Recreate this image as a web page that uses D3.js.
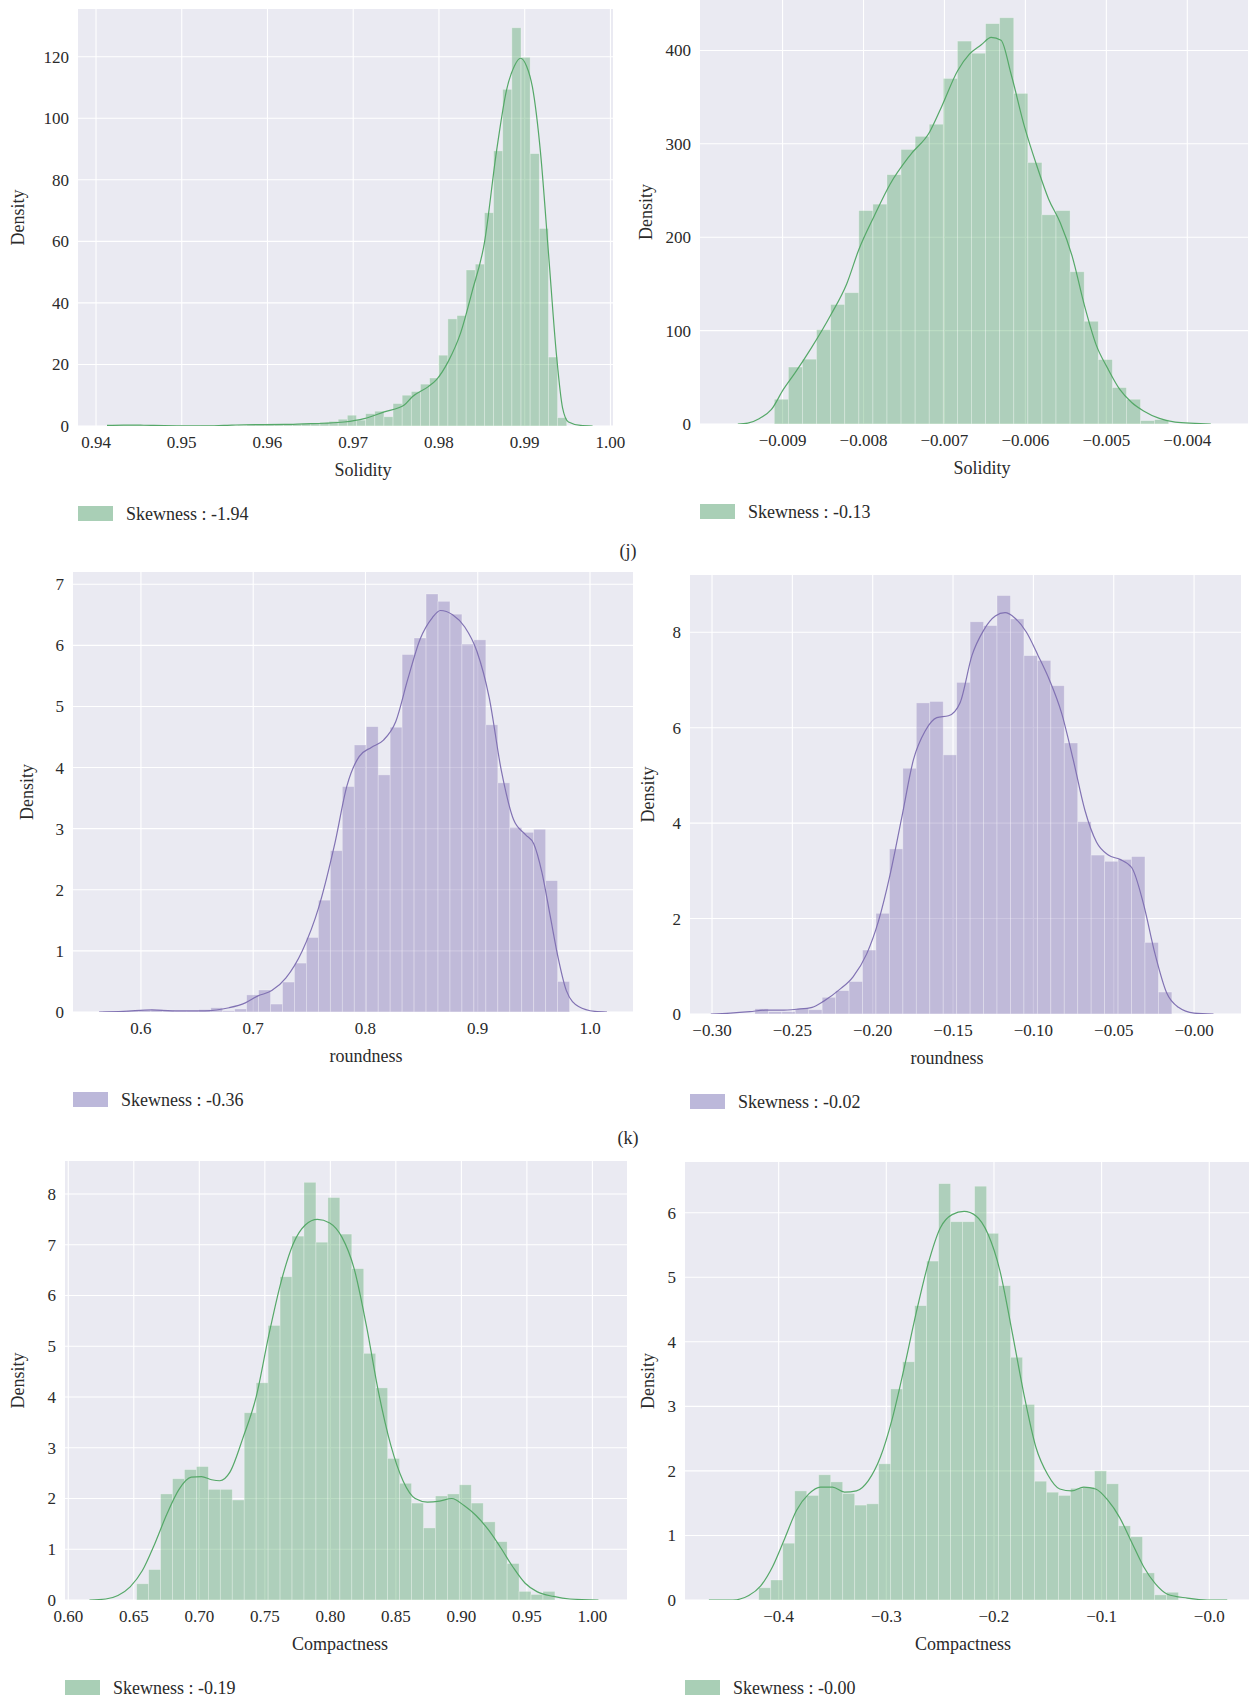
<!DOCTYPE html>
<html>
<head>
<meta charset="utf-8">
<script src="https://cdn.jsdelivr.net/npm/d3@7"></script>
<style>
  html, body { margin: 0; padding: 0; background: #ffffff; }
  svg { display: block; }
  text { font-family: "Liberation Serif", "DejaVu Serif", serif; fill: #2a2a2a; }
</style>
</head>
<body>
<svg id="fig" width="1251" height="1702"></svg>
<script>
// ---------- Solidity (original) ----------
const solidityBinStart = 0.9416, solidityBinWidth = 0.001066;
const solidityHist = [0.3,0.2,0.2,0.2,0.1,0,0,0,0,0,0.05,0.1,0.1,0.1,0.3,0.5,0.4,0.5,0.6,0.5,0.6,0.8,
  1.0,1.2,1.5,2.2,3.5,1.9,4.0,4.8,3.0,7.3,10.0,11.2,13.6,15.6,23,34.8,35.9,50.7,52.6,69.3,
  89.4,109.4,129.4,119.8,88.5,64.2,22.4,2.7];
const solidityKdeX = [0.94128,0.94324,0.94558,0.94792,0.95025,0.95259,0.95493,0.95726,0.9596,0.96194,0.96427,
  0.96661,0.96894,0.97128,0.97362,0.97595,0.97689,0.97876,0.97969,0.98109,0.9825,0.9839,0.9853,0.9867,
  0.98787,0.9888,0.98951,0.99021,0.99091,0.99184,0.99278,0.99371,0.99441,0.99511,0.99651,0.99792];
const solidityKdeY = [0.2,0.3,0.25,0.1,0.05,0.05,0.2,0.4,0.45,0.5,0.7,0.9,1.3,2.4,4.6,6.8,9.5,12.8,15,21,30,44,
  59.5,89,109,117,119.5,117,110,89,56,23,6,1.3,0.2,0];
const solidityTicksX = [0.94,0.95,0.96,0.97,0.98,0.99,1.00];
const solidityTickLabelsX = ["0.94","0.95","0.96","0.97","0.98","0.99","1.00"];
const solidityTicksY = [0,20,40,60,80,100,120];

// ---------- Solidity (transformed) ----------
const solidityTBinStart = -0.009102, solidityTBinWidth = 0.000174;
const solidityTHist = [26.5,61,69.4,101,128,140.6,228.5,235.4,267,294,308,321,370,410,397,428.7,435,354,280,224,
  228.5,163,110,69,39,26.5,3.6,4.7];
const solidityTKdeX = [-0.009553,-0.00943,-0.009284,-0.009137,-0.00899,-0.008844,-0.008648,-0.008403,-0.008208,
  -0.008061,-0.007866,-0.00767,-0.007423,-0.007181,-0.007034,-0.006839,-0.006692,-0.006545,-0.006423,-0.006301,
  -0.006178,-0.006007,-0.005861,-0.005714,-0.005567,-0.00542,-0.005274,-0.005127,-0.00498,-0.004834,-0.004687,
  -0.00454,-0.004345,-0.004149,-0.003905,-0.003709];
const solidityTKdeY = [0,1,6,15.6,37,55,81,117,150,186,223,257,288,313,340,378,396,406,414,411,375,317,277,241,
  215,179,128,85,59,37,23,14,6,2,0.7,0];
const solidityTTicksX = [-0.009,-0.008,-0.007,-0.006,-0.005,-0.004];
const solidityTTickLabelsX = ["\u22120.009","\u22120.008","\u22120.007","\u22120.006","\u22120.005","\u22120.004"];
const solidityTTicksY = [0,100,200,300,400];

// ---------- roundness (original) ----------
const roundBinStart = 0.5663, roundBinWidth = 0.010654;
const roundHist = [0.01,0.01,0.02,0.03,0.04,0.03,0.02,0.02,0.04,0.07,0.02,0.05,0.28,0.36,0.13,0.49,0.80,1.22,1.83,
  2.64,3.69,4.37,4.67,3.88,4.66,5.85,6.12,6.84,6.72,6.51,6.02,6.09,4.70,3.75,3.02,2.94,2.99,2.15,0.50];
const roundKdeX = [0.56272,0.58444,0.60977,0.62787,0.65682,0.67854,0.69301,0.70387,0.71654,0.7292,0.74368,
  0.75816,0.77264,0.78349,0.79435,0.80521,0.81607,0.82693,0.83778,0.84864,0.8595,0.86674,0.87759,0.88845,
  0.89931,0.91017,0.92103,0.93189,0.94274,0.94998,0.95722,0.96446,0.9717,0.97894,0.98979,1.00427,1.01513];
const roundKdeY = [0,0.01,0.035,0.02,0.02,0.07,0.15,0.26,0.35,0.56,1.0,1.7,2.75,3.7,4.18,4.33,4.45,4.75,5.45,6.1,
  6.45,6.57,6.5,6.3,5.9,5.15,3.95,3.15,2.9,2.75,2.28,1.58,0.88,0.35,0.09,0.01,0];
const roundTicksX = [0.6,0.7,0.8,0.9,1.0];
const roundTickLabelsX = ["0.6","0.7","0.8","0.9","1.0"];
const roundTicksY = [0,1,2,3,4,5,6,7];

// ---------- roundness (transformed) ----------
const roundTBinStart = -0.2733, roundTBinWidth = 0.00837;
const roundTHist = [0.11,0.05,0.05,0.11,0.09,0.35,0.49,0.68,1.34,2.11,3.46,5.15,6.52,6.55,5.43,6.95,8.22,8.14,
  8.77,8.28,7.51,7.41,6.88,5.68,4.03,3.33,3.20,3.24,3.30,1.5,0.46];
const roundTKdeX = [-0.30073,-0.2886,-0.27648,-0.26678,-0.25708,-0.24738,-0.23768,-0.23041,-0.22071,-0.21222,
  -0.20373,-0.19646,-0.18918,-0.18191,-0.17464,-0.16736,-0.16009,-0.15281,-0.14554,-0.13826,-0.13099,-0.12371,
  -0.11765,-0.11159,-0.10431,-0.09704,-0.08976,-0.08249,-0.07522,-0.06794,-0.06067,-0.05339,-0.04612,-0.03884,
  -0.03157,-0.0243,-0.01702,-0.00975,0.0,0.01208];
const roundTKdeY = [0,0.02,0.05,0.08,0.08,0.1,0.14,0.27,0.51,0.78,1.26,1.94,2.92,4.12,5.33,5.93,6.21,6.25,6.53,
  7.51,8.04,8.34,8.41,8.3,8.0,7.51,6.98,6.31,5.33,4.27,3.6,3.33,3.24,3.07,2.32,1.26,0.44,0.14,0.02,0];
const roundTTicksX = [-0.30,-0.25,-0.20,-0.15,-0.10,-0.05,0];
const roundTTickLabelsX = ["\u22120.30","\u22120.25","\u22120.20","\u22120.15","\u22120.10","\u22120.05","\u22120.00"];
const roundTTicksY = [0,2,4,6,8];

// ---------- Compactness (original) ----------
const compBinStart = 0.6522, compBinWidth = 0.00912;
const compHist = [0.32,0.60,2.09,2.39,2.57,2.63,2.18,2.18,1.97,3.69,4.28,5.41,6.37,7.17,8.23,7.05,7.93,7.21,6.53,
  4.86,4.18,2.79,2.30,1.91,1.42,2.05,2.09,2.27,1.91,1.54,1.15,0.72,0.17,0.11,0.17];
const compKdeX = [0.61616,0.62859,0.63791,0.64723,0.65656,0.66588,0.6752,0.68452,0.69385,0.70162,0.70939,0.7156,
  0.72337,0.73325,0.74357,0.75289,0.76221,0.77153,0.78086,0.79018,0.7995,0.80883,0.81815,0.82747,0.83679,
  0.84612,0.85544,0.86476,0.87408,0.88341,0.89273,0.90205,0.91137,0.9207,0.93002,0.93934,0.94867,0.95799,
  0.97042,0.98285,1.0046];
const compKdeY = [0,0.02,0.09,0.26,0.58,1.1,1.69,2.18,2.42,2.43,2.37,2.35,2.52,3.19,4.02,5.2,6.25,7.01,7.39,7.5,
  7.43,7.15,6.53,5.41,4.09,3.05,2.35,2.0,1.93,1.95,2.0,1.86,1.66,1.38,1.03,0.65,0.33,0.16,0.07,0.02,0];
const compTicksX = [0.60,0.65,0.70,0.75,0.80,0.85,0.90,0.95,1.00];
const compTickLabelsX = ["0.60","0.65","0.70","0.75","0.80","0.85","0.90","0.95","1.00"];
const compTicksY = [0,1,2,3,4,5,6,7,8];

// ---------- Compactness (transformed) ----------
const compTBinStart = -0.4185, compTBinWidth = 0.01114;
const compTHist = [0.19,0.31,0.88,1.69,1.62,1.94,1.83,1.65,1.47,1.49,2.11,3.27,3.69,4.56,5.25,6.45,5.86,5.86,6.41,
  5.68,4.87,3.76,3.03,1.84,1.67,1.62,1.73,1.75,2.0,1.8,1.15,0.98,0.42,0.08,0.12];
const compTKdeX = [-0.46481,-0.44259,-0.42778,-0.41667,-0.40556,-0.39444,-0.38333,-0.37222,-0.36111,-0.35,
  -0.33889,-0.32778,-0.31667,-0.30556,-0.29444,-0.28333,-0.27222,-0.26111,-0.25,-0.23889,-0.22778,-0.21667,
  -0.20556,-0.19444,-0.18333,-0.17222,-0.16111,-0.15,-0.13889,-0.12778,-0.11667,-0.10556,-0.09444,-0.08333,
  -0.07222,-0.06111,-0.05,-0.03889,-0.02037,-0.00185,0.01667];
const compTKdeY = [0,0,0.07,0.22,0.52,0.95,1.39,1.64,1.75,1.75,1.67,1.69,1.85,2.21,2.81,3.6,4.45,5.21,5.76,5.97,
  6.02,5.95,5.67,5.1,4.17,3.19,2.37,1.94,1.72,1.69,1.75,1.72,1.55,1.28,0.9,0.52,0.25,0.09,0.03,0,0];
const compTTicksX = [-0.4,-0.3,-0.2,-0.1,0];
const compTTickLabelsX = ["\u22120.4","\u22120.3","\u22120.2","\u22120.1","\u22120.0"];
const compTTicksY = [0,1,2,3,4,5,6];

// ---------- Colours ----------
const GREEN = "#55A868", PURPLE = "#8172B3";
const GREEN_PATCH = "#A9CFB6", PURPLE_PATCH = "#BCB8DA";

// Panel table: layout box, axis domains and the data arrays above
const panels = [
  { box:[78, 9, 613, 426], xDom:[0.9379, 1.0003], yMax:135.5,
    start:solidityBinStart, width:solidityBinWidth, hist:solidityHist, kx:solidityKdeX, ky:solidityKdeY,
    xt:solidityTicksX, xtl:solidityTickLabelsX, yt:solidityTicksY,
    color:GREEN, patch:GREEN_PATCH, xlabel:"Solidity", xlabelX:363, skew:"Skewness : -1.94", ylabOff:60 },
  { box:[700, 0, 1248, 424], xDom:[-0.01002, -0.00325], yMax:454,
    start:solidityTBinStart, width:solidityTBinWidth, hist:solidityTHist, kx:solidityTKdeX, ky:solidityTKdeY,
    xt:solidityTTicksX, xtl:solidityTTickLabelsX, yt:solidityTTicksY,
    color:GREEN, patch:GREEN_PATCH, xlabel:"Solidity", xlabelX:982, skew:"Skewness : -0.13", ylabOff:54 },
  { box:[73, 572, 633, 1012], xDom:[0.5395, 1.0383], yMax:7.2,
    start:roundBinStart, width:roundBinWidth, hist:roundHist, kx:roundKdeX, ky:roundKdeY,
    xt:roundTicksX, xtl:roundTickLabelsX, yt:roundTicksY,
    color:PURPLE, patch:PURPLE_PATCH, xlabel:"roundness", xlabelX:366, skew:"Skewness : -0.36", ylabOff:46 },
  { box:[690, 575, 1241, 1014], xDom:[-0.3137, 0.0292], yMax:9.2,
    start:roundTBinStart, width:roundTBinWidth, hist:roundTHist, kx:roundTKdeX, ky:roundTKdeY,
    xt:roundTTicksX, xtl:roundTTickLabelsX, yt:roundTTicksY,
    color:PURPLE, patch:PURPLE_PATCH, xlabel:"roundness", xlabelX:947, skew:"Skewness : -0.02", ylabOff:42 },
  { box:[65, 1161, 627, 1600], xDom:[0.5975, 1.0264], yMax:8.65,
    start:compBinStart, width:compBinWidth, hist:compHist, kx:compKdeX, ky:compKdeY,
    xt:compTicksX, xtl:compTickLabelsX, yt:compTicksY,
    color:GREEN, patch:GREEN_PATCH, xlabel:"Compactness", xlabelX:340, skew:"Skewness : -0.19", ylabOff:47 },
  { box:[685, 1162, 1249, 1600], xDom:[-0.487, 0.0369], yMax:6.785,
    start:compTBinStart, width:compTBinWidth, hist:compTHist, kx:compTKdeX, ky:compTKdeY,
    xt:compTTicksX, xtl:compTTickLabelsX, yt:compTTicksY,
    color:GREEN, patch:GREEN_PATCH, xlabel:"Compactness", xlabelX:963, skew:"Skewness : -0.00", ylabOff:37 }
];

const svg = d3.select("#fig");

panels.forEach((p, i) => {
  const [x0, y0, x1, y1] = p.box;
  const x = d3.scaleLinear().domain(p.xDom).range([x0, x1]);
  const y = d3.scaleLinear().domain([0, p.yMax]).range([y1, y0]);
  const g = svg.append("g");

  const clipId = "clip" + i;
  g.append("clipPath").attr("id", clipId)
    .append("rect").attr("x", x0).attr("y", y0).attr("width", x1 - x0).attr("height", y1 - y0);

  // axes background
  g.append("rect").attr("x", x0).attr("y", y0).attr("width", x1 - x0).attr("height", y1 - y0)
    .attr("fill", "#EAEAF2");

  // grid
  const grid = g.append("g").attr("clip-path", `url(#${clipId})`);
  grid.selectAll("line.gx").data(p.xt).join("line")
    .attr("x1", d => x(d)).attr("x2", d => x(d)).attr("y1", y0).attr("y2", y1)
    .attr("stroke", "#ffffff").attr("stroke-width", 1.1);
  grid.selectAll("line.gy").data(p.yt).join("line").attr("class", "gy")
    .attr("x1", x0).attr("x2", x1).attr("y1", d => y(d)).attr("y2", d => y(d))
    .attr("stroke", "#ffffff").attr("stroke-width", 1.1);

  // histogram bars
  const bins = p.hist.map((h, k) => ({ a: p.start + k * p.width, b: p.start + (k + 1) * p.width, h }));
  const plot = g.append("g").attr("clip-path", `url(#${clipId})`);
  plot.selectAll("rect.bar").data(bins).join("rect")
    .attr("x", d => x(d.a)).attr("width", d => x(d.b) - x(d.a))
    .attr("y", d => y(d.h)).attr("height", d => y(0) - y(d.h))
    .attr("fill", p.color).attr("fill-opacity", 0.4)
    .attr("stroke", "#ffffff").attr("stroke-opacity", 0.35).attr("stroke-width", 0.8);

  // density curve
  const pts = p.kx.map((v, k) => [v, p.ky[k]]);
  plot.append("path").datum(pts)
    .attr("d", d3.line().x(d => x(d[0])).y(d => y(d[1])).curve(d3.curveMonotoneX))
    .attr("fill", "none").attr("stroke", p.color).attr("stroke-width", 1.2);

  // tick labels
  g.selectAll("text.xt").data(p.xt).join("text")
    .attr("x", d => x(d)).attr("y", y1 + 16).attr("dy", "0.35em")
    .attr("text-anchor", "middle").attr("font-size", 17)
    .text((d, k) => p.xtl[k]);
  g.selectAll("text.yt").data(p.yt).join("text").attr("class", "yt")
    .attr("x", x0 - 9).attr("y", d => y(d)).attr("dy", "0.35em")
    .attr("text-anchor", "end").attr("font-size", 17)
    .text(d => String(d));

  // axis titles
  g.append("text").attr("x", p.xlabelX).attr("y", y1 + 44).attr("dy", "0.35em")
    .attr("text-anchor", "middle").attr("font-size", 18).text(p.xlabel);
  g.append("text")
    .attr("transform", `translate(${x0 - p.ylabOff},${(y0 + y1) / 2}) rotate(-90)`)
    .attr("dy", "0.35em").attr("text-anchor", "middle").attr("font-size", 18).text("Density");

  // legend
  g.append("rect").attr("x", x0).attr("y", y1 + 80).attr("width", 35).attr("height", 15)
    .attr("fill", p.patch);
  g.append("text").attr("x", x0 + 48).attr("y", y1 + 87.5).attr("dy", "0.35em")
    .attr("font-size", 18).text(p.skew);
});

// sub-figure letters
svg.append("text").attr("x", 628).attr("y", 551).attr("dy", "0.35em")
  .attr("text-anchor", "middle").attr("font-size", 18).text("(j)");
svg.append("text").attr("x", 628).attr("y", 1138).attr("dy", "0.35em")
  .attr("text-anchor", "middle").attr("font-size", 18).text("(k)");
</script>
</body>
</html>
